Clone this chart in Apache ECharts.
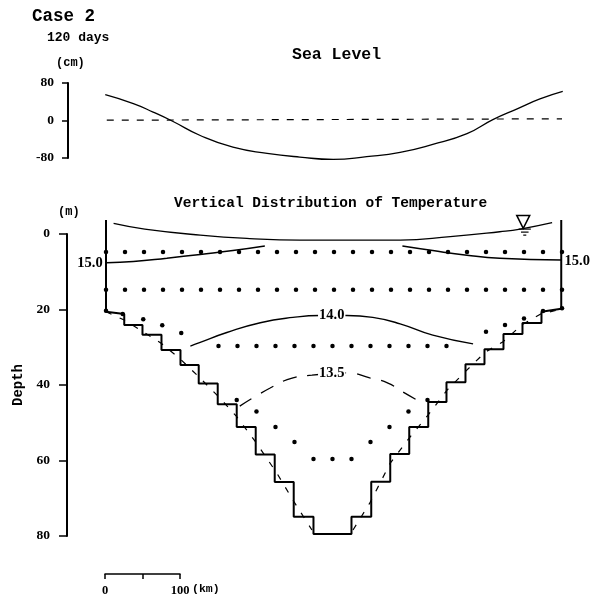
<!DOCTYPE html>
<html><head><meta charset="utf-8">
<style>html,body{margin:0;padding:0;background:#fff}#c{width:601px;height:597px}</style>
<script src="https://cdn.jsdelivr.net/npm/echarts@6/dist/echarts.min.js"></script>
</head><body><div id="c"></div>
<script>
// Sea level (km, cm)
const seaKm = [-1,36,62,87,124,167,212,255,299,343,387,430,475,509,541,571,601];
const seaCm = [55,36,18,-1,-32,-57,-70,-78,-83,-77,-68,-51,-28,2,25,46,62];
const zeroKm = [1,600];
const zeroCm = [0.6,3.6];
const seaTicks = [-80,0,80];
// Free surface in the section (km, m)
const surfKm = [10,51,124,189,255,387,453,518,545,587];
const surfM = [-2.8,-1.3,0.3,1.2,1.6,1.6,0.7,-0.6,-1.3,-3];
// Isotherms
const t15LeftKm = [1,36,80,124,167,209];
const t15LeftM = [7.6,7.3,6.4,5.4,4.4,3.2];
const t15RightKm = [390,430,475,518,599];
const t15RightM = [3.2,4.4,5.6,6.4,6.9];
const t14Km = [111,124,159,203,246,282,317,351,387,430,483];
const t14M = [29.7,28.7,26.1,23.5,22.1,21.6,21.6,22.1,23.8,26.8,29.1];
const t135Km = [176,216,246,271,317,347,371,391,411];
const t135M = [45.6,40.8,38.1,37.4,36.8,38.1,39.5,41.9,44.2];
const isoLabels = ['15.0','15.0','14.0','13.5'];
const isoLabelKm = [-21,620,297,297];
const isoLabelM = [7.7,7.2,21.6,36.8];
// Stepped bed (km, m)
const bedKm = [0,0,24,24,48,48,73,73,98,98,122,122,147,147,172,172,197,197,222,222,247,247,273,273,323,323,349,349,374,374,399,399,424,424,448,448,473,473,498,498,523,523,548,548,573,573,599,599];
const bedM = [-3.7,20.6,21.2,24.1,24.1,26.7,26.7,30.7,30.7,34.7,34.7,39.6,39.6,45.1,45.1,51.1,51.1,58.4,58.4,65.7,65.7,74.9,74.9,79.5,79.5,74.9,74.9,65.6,65.6,58.3,58.3,51.1,51.1,44.5,44.5,39.3,39.3,34.5,34.5,30.5,30.5,26.5,26.5,23.6,23.6,20.6,19.8,-3.7];
// Dashed true bottom (km, m)
const slopeKm = [0,24,49,73,97,124,150,172,198,225,246,271,325,347,374,400,424,449,472,499,522,547,572,595];
const slopeM = [20.6,22.8,25.9,29,33,38.2,43.5,48.4,55.4,63.4,70.5,78.4,78.4,71.3,60.7,53.8,47.9,41.3,36.6,31.3,28.6,24.1,21.2,20.1];
// Grid points
const row5Km = [0,25,50,75,100,125,150,175,200,225,250,275,300,325,350,375,400,425,450,475,500,525,550,575,600];
const row5M = [4.8,4.8,4.8,4.8,4.8,4.8,4.8,4.8,4.8,4.8,4.8,4.8,4.8,4.8,4.8,4.8,4.8,4.8,4.8,4.8,4.8,4.8,4.8,4.8,4.8];
const row15Km = [0,25,50,75,100,125,150,175,200,225,250,275,300,325,350,375,400,425,450,475,500,525,550,575,600];
const row15M = [14.8,14.8,14.8,14.8,14.8,14.8,14.8,14.8,14.8,14.8,14.8,14.8,14.8,14.8,14.8,14.8,14.8,14.8,14.8,14.8,14.8,14.8,14.8,14.8,14.8];
const row30Km = [148,173,198,223,248,273,298,323,348,373,398,423,448];
const row30M = [29.7,29.7,29.7,29.7,29.7,29.7,29.7,29.7,29.7,29.7,29.7,29.7,29.7];
const bendKm = [0,22,49,74,99,500,525,550,575,600,172,198,223,248,273,298,323,348,373,398,423];
const bendM = [20.3,21.2,22.6,24.2,26.2,25.9,24.1,22.4,20.4,19.7,44,47,51.1,55.1,59.6,59.6,59.6,55.1,51.1,47,44];
// Water-level mark
const markKm = [549];
const markM = [-3.2];
const hatchKm = [[543,559],[546,556],[549,553]];
const hatchM = [[-1.3,-1.3],[-0.5,-0.5],[0.3,0.3]];
const scaleTicks = [0,50,100];

const MONO = '"Liberation Mono", monospace';
const SERIF = '"Liberation Serif", serif';
const INK = '#000';
const zip = (a,b) => a.map((v,i)=>[v,b[i]]);
const line = (xi,k,m,w,extra) => Object.assign({type:'line',xAxisIndex:xi,yAxisIndex:xi,data:zip(k,m),symbol:'none',clip:false,
  lineStyle:{color:INK,width:w},silent:true,animation:false},extra||{});
const txt = (s,x,y,size,extra) => ({type:'text',left:x,top:y,silent:true,style:Object.assign({text:s,font:'bold '+size+'px '+MONO,fill:INK},extra||{})});

const axisCommon = {
  splitLine:{show:false}
};
const yLine = {show:true,onZero:false,lineStyle:{color:INK,width:2}};
const yLabel = m => ({color:INK,fontFamily:SERIF,fontSize:13.5,fontWeight:'bold',margin:m});

const chart = echarts.init(document.getElementById('c'),null,{renderer:'canvas'});
chart.setOption({
  backgroundColor:'#fff',animation:false,
  grid:[
    {left:106,top:83,width:456,height:75},
    {left:106,top:234,width:456,height:302},
    {left:105,top:573,width:75,height:1}
  ],
  xAxis:[
    {gridIndex:0,type:'value',min:0,max:600,show:false},
    {gridIndex:1,type:'value',min:0,max:600,show:false},
    {gridIndex:2,type:'value',min:0,max:100,interval:50,
      axisLine:{show:true,onZero:false,lineStyle:{color:INK,width:1.5}},
      axisTick:{show:true,length:5,lineStyle:{color:INK,width:1.5}},
      splitLine:{show:false},
      axisLabel:{color:INK,fontFamily:SERIF,fontSize:12.5,fontWeight:'bold',margin:10,
        showMinLabel:true,showMaxLabel:true,
        formatter:v=>scaleTicks.indexOf(v)===1?'':String(v)}}
  ],
  yAxis:[
    Object.assign({},axisCommon,{gridIndex:0,type:'value',min:seaTicks[0],max:seaTicks[2],interval:80,offset:38,
      axisLine:yLine,axisLabel:yLabel(14),
      axisTick:{show:true,length:6,lineStyle:{color:INK,width:1.5}}}),
    Object.assign({},axisCommon,{gridIndex:1,type:'value',min:0,max:80,interval:20,inverse:true,offset:39,
      axisLine:yLine,axisLabel:yLabel(17),
      axisTick:{show:true,length:8,lineStyle:{color:INK,width:1.5}}}),
    {gridIndex:2,type:'value',min:0,max:1,show:false}
  ],
  series:[
    line(0,zeroKm,zeroCm,1.2,{lineStyle:{color:INK,width:1.2,type:[7,8]}}),
    line(0,seaKm,seaCm,1.3,{smooth:0.5}),
    line(1,surfKm,surfM,1.3,{smooth:0.5}),
    line(1,slopeKm.slice(0,12),slopeM.slice(0,12),1.2,{lineStyle:{color:INK,width:1.2,type:[6,9]}}),
    line(1,slopeKm.slice(12),slopeM.slice(12),1.2,{lineStyle:{color:INK,width:1.2,type:[6,9]}}),
    line(1,bedKm,bedM,2),
    line(1,t15LeftKm,t15LeftM,1.5,{smooth:0.5}),
    line(1,t15RightKm,t15RightM,1.5,{smooth:0.5}),
    line(1,t14Km,t14M,1.4,{smooth:0.5}),
    line(1,t135Km,t135M,1.3,{smooth:0.5,lineStyle:{color:INK,width:1.3,type:[14,11]}}),
    ...[[row5Km,row5M],[row15Km,row15M],[row30Km,row30M],[bendKm,bendM]].map(([k,m])=>({
      type:'scatter',xAxisIndex:1,yAxisIndex:1,data:zip(k,m),symbol:'circle',symbolSize:4.5,clip:false,
      itemStyle:{color:INK,opacity:1},silent:true,animation:false})),
    {type:'scatter',xAxisIndex:1,yAxisIndex:1,clip:false,silent:true,animation:false,
      data:isoLabels.map((s,i)=>({name:s,value:[isoLabelKm[i],isoLabelM[i]]})),
      symbol:'circle',symbolSize:1,itemStyle:{color:'#fff',opacity:1},z:5,
      label:{show:true,position:'inside',formatter:p=>p.name,color:INK,fontFamily:SERIF,fontWeight:'bold',fontSize:14.5,
        backgroundColor:'#fff',padding:[0,1]}},
    {type:'scatter',xAxisIndex:1,yAxisIndex:1,clip:false,silent:true,animation:false,
      data:zip(markKm,markM),symbol:'triangle',symbolRotate:180,symbolSize:[13,13],
      itemStyle:{color:'#fff',borderColor:INK,borderWidth:1.5,opacity:1}},
    ...hatchKm.map((k,i)=>line(1,k,hatchM[i],1.2)),
    {type:'line',xAxisIndex:2,yAxisIndex:2,data:[],silent:true}
  ],
  graphic:[
    txt('Case 2',32,8,17.5),
    txt('120 days',47,31,13),
    txt('(cm)',56,57,12),
    txt('Sea Level',292,46,16.5),
    txt('(m)',58,206,12),
    txt('Vertical Distribution of Temperature',174,196,14.5),
    txt('(km)',192,583,11.5),
    {type:'text',left:11,top:364,rotation:Math.PI/2,silent:true,
      style:{text:'Depth',font:'bold 14px '+MONO,fill:INK}}
  ]
});
</script></body></html>
